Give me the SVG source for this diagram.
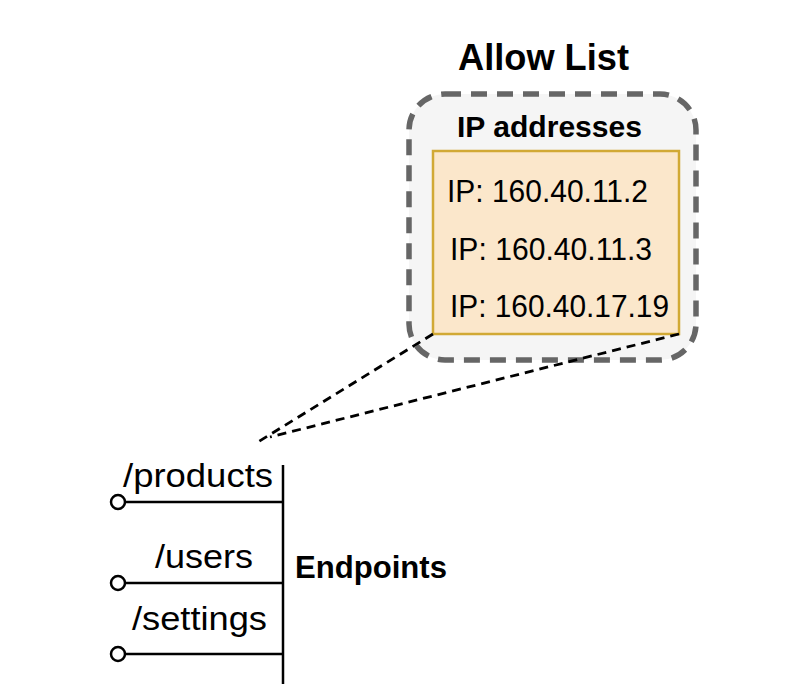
<svg xmlns="http://www.w3.org/2000/svg" width="792" height="694" viewBox="0 0 792 694">
<style>
.t{font-family:"Liberation Sans",Arial,Helvetica,sans-serif;fill:#000}
.b{font-weight:bold}
.dash{stroke:#000;stroke-width:2.8;stroke-dasharray:9 6;fill:none}
.ln{stroke:#000;stroke-width:2.5;fill:none}
.end{fill:#fff;stroke:#000;stroke-width:2.5}
</style>
<rect width="792" height="694" fill="#fff"/>
<g id="allow-list">
<text class="t b" x="458" y="70" font-size="36" textLength="171" lengthAdjust="spacingAndGlyphs">Allow List</text>
<rect x="409" y="94" width="287" height="266" rx="36" fill="#f5f5f5" stroke="#666" stroke-width="5.5" stroke-dasharray="16 10"/>
<text class="t b" x="457" y="137" font-size="30" textLength="185" lengthAdjust="spacingAndGlyphs">IP addresses</text>
</g>
<g id="ip-list">
<rect x="433" y="151" width="246" height="183" fill="#fbe7cb" stroke="#d1a935" stroke-width="2.5"/>
<text class="t" x="447" y="202" font-size="32" textLength="201" lengthAdjust="spacingAndGlyphs">IP: 160.40.11.2</text>
<text class="t" x="450" y="260" font-size="32" textLength="202" lengthAdjust="spacingAndGlyphs">IP: 160.40.11.3</text>
<text class="t" x="450" y="317" font-size="32" textLength="219" lengthAdjust="spacingAndGlyphs">IP: 160.40.17.19</text>
</g>
<g id="connectors">
<line class="dash" x1="433" y1="334" x2="258" y2="442"/>
<line class="dash" x1="679" y1="334" x2="270" y2="437"/>
</g>
<g id="endpoints">
<line class="ln" x1="283" y1="465" x2="283" y2="684"/>
<line class="ln" x1="125" y1="502" x2="283" y2="502"/>
<line class="ln" x1="125" y1="583" x2="283" y2="583"/>
<line class="ln" x1="125" y1="654" x2="283" y2="654"/>
<circle class="end" cx="118" cy="502" r="7"/>
<circle class="end" cx="118" cy="583" r="7"/>
<circle class="end" cx="118" cy="654" r="7"/>
<text class="t" x="123" y="487" font-size="34" textLength="150" lengthAdjust="spacingAndGlyphs">/products</text>
<text class="t" x="155" y="568" font-size="34" textLength="98" lengthAdjust="spacingAndGlyphs">/users</text>
<text class="t" x="132" y="630" font-size="34" textLength="135" lengthAdjust="spacingAndGlyphs">/settings</text>
<text class="t b" x="295" y="578" font-size="31" textLength="152" lengthAdjust="spacingAndGlyphs">Endpoints</text>
</g>
</svg>
